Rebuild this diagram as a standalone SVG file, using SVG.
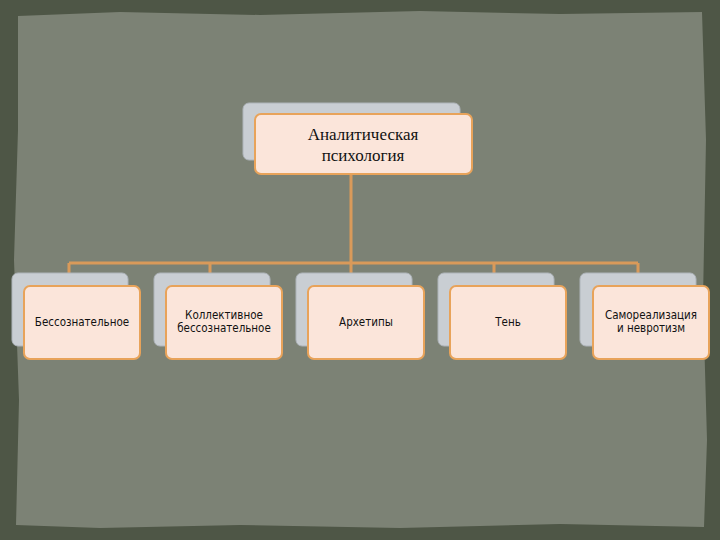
<svg xmlns="http://www.w3.org/2000/svg" width="720" height="540" viewBox="0 0 720 540">
<style>
.back{fill:#c9ced3;stroke:#aeb4ba;stroke-width:1}
.front{fill:#fbe5da;stroke:#e8a35a;stroke-width:2}
.t{font-family:"Liberation Serif",serif;font-size:17px;fill:#111;text-anchor:middle}
.s{font-family:"DejaVu Sans Condensed","DejaVu Sans",sans-serif;font-size:11.5px;fill:#111;text-anchor:middle}
.c{stroke:#d99a5a;stroke-width:3;fill:none}
</style>
<rect width="720" height="540" fill="#4e5646"/>
<path d="M18,16 L120,12 L260,15 L420,11 L560,14 L702,12 L706,140 L703,300 L707,440 L704,527 L560,524 L400,528 L240,525 L100,528 L16,525 L19,400 L14,260 L18,130 Z" fill="#7c8275"/>
<g id="connectors">
<path class="c" d="M351,174 V263 M69,263 H638 M69,263 V274 M210,263 V274 M351,263 V274 M494,263 V274 M638,263 V274"/>
</g>
<g id="root">
<rect class="back" x="243" y="103" width="217" height="57" rx="6"/>
<rect class="front" x="255" y="114" width="217" height="60" rx="6"/>
<text class="t" x="363" y="140">Аналитическая</text>
<text class="t" x="363" y="161">психология</text>
</g>
<g id="n1">
<rect class="back" x="12" y="273" width="116" height="73" rx="6"/>
<rect class="front" x="24" y="286" width="116" height="73" rx="6"/>
<text class="s" x="82" y="326">Бессознательное</text>
</g>
<g id="n2">
<rect class="back" x="154" y="273" width="116" height="73" rx="6"/>
<rect class="front" x="166" y="286" width="116" height="73" rx="6"/>
<text class="s" x="224" y="319">Коллективное</text>
<text class="s" x="224" y="332">бессознательное</text>
</g>
<g id="n3">
<rect class="back" x="296" y="273" width="116" height="73" rx="6"/>
<rect class="front" x="308" y="286" width="116" height="73" rx="6"/>
<text class="s" x="366" y="326">Архетипы</text>
</g>
<g id="n4">
<rect class="back" x="438" y="273" width="116" height="73" rx="6"/>
<rect class="front" x="450" y="286" width="116" height="73" rx="6"/>
<text class="s" x="508" y="326">Тень</text>
</g>
<g id="n5">
<rect class="back" x="580" y="273" width="116" height="73" rx="6"/>
<rect class="front" x="593" y="286" width="116" height="73" rx="6"/>
<text class="s" x="651" y="319">Самореализация</text>
<text class="s" x="651" y="332">и невротизм</text>
</g>
</svg>
